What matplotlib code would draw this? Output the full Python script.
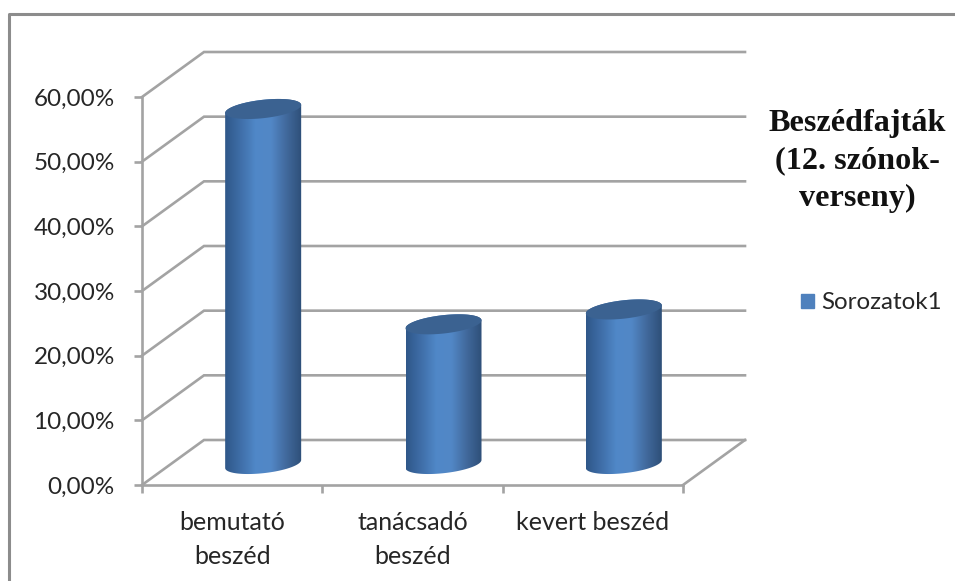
import numpy as np
import matplotlib
matplotlib.use('Agg')
import matplotlib.pyplot as plt
from matplotlib.colors import LinearSegmentedColormap
from matplotlib.lines import Line2D
from matplotlib.patches import Patch, PathPatch
from matplotlib.path import Path

# Data
categories = ['bemutató\nbeszéd', 'tanácsadó\nbeszéd', 'kevert beszéd']
values = [54.9, 21.6, 23.9]
y_ticks = [0, 10, 20, 30, 40, 50, 60]
y_labels = ['0,00%', '10,00%', '20,00%', '30,00%', '40,00%', '50,00%', '60,00%']
series_name = 'Sorozatok1'
title = 'Beszédfajták\n(12. szónok-\nverseny)'

# Colours
GRID = '#a3a3a3'
TEXT = '#262626'
TOP = '#3b6291'
cyl_cmap = LinearSegmentedColormap.from_list(
    'cyl', ['#2f5789', '#3f6ea8', '#5088c8', '#5287c6', '#41699c', '#2e4f78'])

W, H = 955, 581
fig = plt.figure(figsize=(W / 100, H / 100), dpi=100)

# front plane of the 3d box, in pixels of the picture
left, right, bottom, top = 142, 683, 485, 97
ax = fig.add_axes([left / W, 1 - bottom / H, (right - left) / W, (bottom - top) / H])
ax.set_xlim(0, 3)
ax.set_ylim(0, 60)
ax.patch.set_alpha(0)

# one pixel in data units
px = 3 / (right - left)
py = 60 / (bottom - top)
depth_x = 62 * px
depth_y = 45 * py

# back wall and side lines
for v in y_ticks:
    ax.plot([0, depth_x, 3 + depth_x], [v, v + depth_y, v + depth_y],
            color=GRID, lw=1.9, zorder=1, clip_on=False, solid_joinstyle='miter')
ax.plot([3, 3 + depth_x], [0, depth_y], color=GRID, lw=1.9, zorder=1, clip_on=False)

for s in ['top', 'right']:
    ax.spines[s].set_visible(False)
for s in ['left', 'bottom']:
    ax.spines[s].set_color(GRID)
    ax.spines[s].set_linewidth(1.9)
    ax.spines[s].set_zorder(2)

ax.set_yticks(y_ticks)
ax.set_yticklabels(y_labels, fontsize=17.5, color=TEXT, family='Lato')
ax.set_xticks([0, 1, 2, 3])
ax.set_xticklabels([])
ax.set_xticks([0.5, 1.5, 2.5], minor=True)
ax.set_xticklabels(categories, minor=True, fontsize=18, color=TEXT, family='Lato', linespacing=1.58)
ax.tick_params(axis='both', which='major', color=GRID, width=1.9, length=5.5)
ax.tick_params(axis='y', which='major', pad=14)
ax.tick_params(axis='x', which='minor', length=0, pad=18.5)

# cylinders
RX = 38 * px
RY = 9.2 * py
TILT = 4 * py
FLOOR = 21 * py  # centre of the bar bases above the front edge


def ring(cx, cy, t):
    return np.column_stack([cx + RX * np.cos(t), cy + RY * np.sin(t) + TILT * np.cos(t)])


gradient = np.linspace(0, 1, 256).reshape(1, -1)
for i, v in enumerate(values):
    cx = i + 0.5 + depth_x / 2
    y0 = FLOOR
    y1 = FLOOR + v
    low = ring(cx, y0, np.linspace(np.pi, 2 * np.pi, 60))
    up = ring(cx, y1, np.linspace(0, np.pi, 60))
    body = Path(np.vstack([low, up, low[:1]]), closed=True)
    im = ax.imshow(gradient, extent=[cx - RX, cx + RX, y0 - 12 * py, y1 + 12 * py], aspect='auto',
                   cmap=cyl_cmap, zorder=3, interpolation='bilinear')
    im.set_clip_path(PathPatch(body, transform=ax.transData))
    cap = ring(cx, y1, np.linspace(0, 2 * np.pi, 120))
    ax.fill(cap[:, 0], cap[:, 1], color=TOP, lw=0, zorder=4, clip_on=False)

ax.set_xlim(0, 3)
ax.set_ylim(0, 60)

# outer frame of the chart, cut off by the picture on the right and below
fig.add_artist(Line2D([9 / W, 9 / W, 1], [0, 1 - 14 / H, 1 - 14 / H], color='#8c8c8c', lw=2.2))

fig.text(857 / W, 1 - 161 / H, title, ha='center', va='center', fontsize=23.2,
         fontweight='bold', family='Liberation Serif', color='#111111', linespacing=1.38)

fig.legend(handles=[Patch(color='#4f81bd', label=series_name)],
           loc='center left', bbox_to_anchor=(801 / W, 1 - 303 / H), frameon=False,
           prop={'family': 'Lato', 'size': 17.4}, labelcolor=TEXT,
           handlelength=0.55, handleheight=0.55, handletextpad=0.3, borderpad=0, borderaxespad=0)

fig.savefig('out.png', dpi=100)
